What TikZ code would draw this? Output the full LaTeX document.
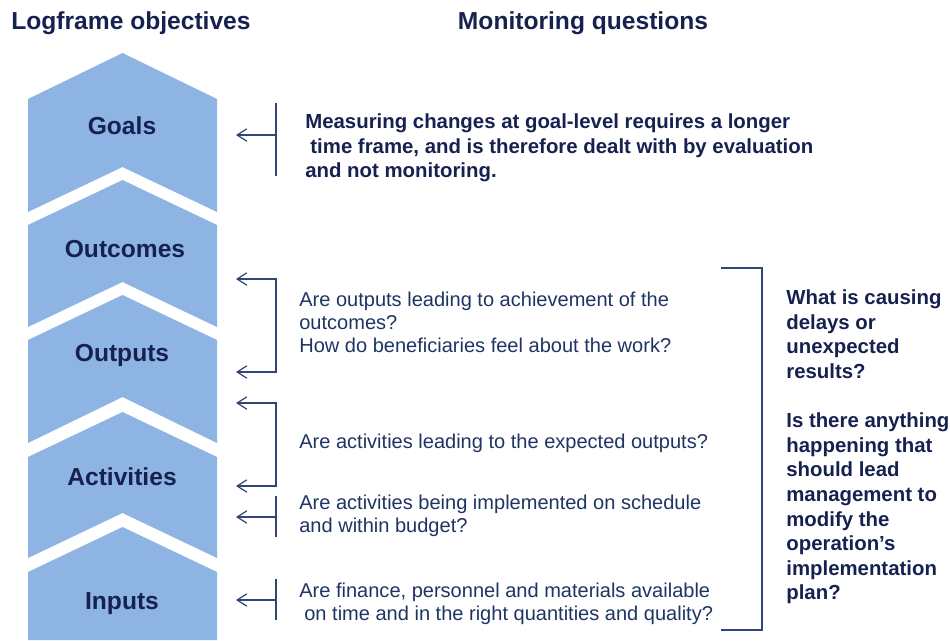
\documentclass[tikz,border=0pt]{standalone}
\usepackage{fontspec}
\setmainfont{Liberation Sans}
\usetikzlibrary{arrows.meta}
\definecolor{chevblue}{RGB}{142,180,227}
\definecolor{navytext}{RGB}{22,33,80}
\definecolor{bodytext}{RGB}{30,52,98}
\definecolor{linecol}{RGB}{50,70,118}
\tikzset{
    chevron/.style={
        fill=chevblue,
        draw=none
    },
    chevlabel/.style={
        anchor=base,
        inner sep=0,
        text=navytext,
        font=\bfseries\fontsize{14}{17}\selectfont
    },
    heading/.style={
        chevlabel
    },
    question/.style={
        anchor=west,
        align=left,
        inner sep=0,
        text=bodytext,
        font=\fontsize{11.4}{13}\selectfont
    },
    boldquestion/.style={
        question,
        text=navytext,
        font=\bfseries\fontsize{11.6}{14}\selectfont
    },
    bracket/.style={
        draw=linecol,
        line width=0.7pt
    },
    pointer/.style={
        bracket,
        -{Straight Barb[length=5.5pt,width=7pt]}
    },
    twopointer/.style={
        bracket,
        {Straight Barb[length=5.5pt,width=7pt]}-{Straight Barb[length=5.5pt,width=7pt]}
    }
}

\begin{document}
\begin{tikzpicture}[x=0.02cm, y=-0.02cm]
    \useasboundingbox (0,0) rectangle (950,640);
    % headings
    \node[heading] (head-left) at (131,29) {Logframe objectives};
    \node[heading] (head-right) at (583,29) {Monitoring questions};

    % chevrons
    \fill[chevron] (28,99) -- (122.5,53) -- (217,99) -- (217,212) -- (122.5,167) -- (28,212) -- cycle;
    \fill[chevron] (28,225) -- (122.5,180) -- (217,225) -- (217,327) -- (122.5,282) -- (28,327) -- cycle;
    \fill[chevron] (28,340) -- (122.5,295) -- (217,340) -- (217,443) -- (122.5,397) -- (28,443) -- cycle;
    \fill[chevron] (28,457) -- (122.5,412) -- (217,457) -- (217,558) -- (122.5,513) -- (28,558) -- cycle;
    \fill[chevron] (28,572) -- (122.5,527) -- (217,572) -- (217,640) -- (28,640) -- cycle;
    \node[chevlabel] (goals) at (122,134) {Goals};
    \node[chevlabel] (outcomes) at (125,257) {Outcomes};
    \node[chevlabel] (outputs) at (122,361) {Outputs};
    \node[chevlabel] (activities) at (122,485) {Activities};
    \node[chevlabel] (inputs) at (122,609) {Inputs};

    % bracket end points
    \coordinate (g-top) at (276,103);
    \coordinate (g-bot) at (276,176);
    \coordinate (g-mid) at (276,135);
    \coordinate (g-tip) at (236,135);
    \coordinate (o-tip1) at (236,279);
    \coordinate (o-c1) at (276,279);
    \coordinate (o-c2) at (276,372);
    \coordinate (o-tip2) at (236,372);
    \coordinate (a-tip1) at (236,403);
    \coordinate (a-c1) at (276,403);
    \coordinate (a-c2) at (276,486);
    \coordinate (a-tip2) at (236,486);
    \coordinate (s-top) at (276,496);
    \coordinate (s-bot) at (276,537);
    \coordinate (s-mid) at (276,517);
    \coordinate (s-tip) at (236,517);
    \coordinate (i-top) at (276,579);
    \coordinate (i-bot) at (276,620);
    \coordinate (i-mid) at (276,600);
    \coordinate (i-tip) at (236,600);
    \coordinate (b-top) at (721,268);
    \coordinate (b-c1) at (762,268);
    \coordinate (b-c2) at (762,630);
    \coordinate (b-bot) at (721,630);

    % brackets and arrows
    \draw[bracket] (g-top) -- (g-bot);
    \draw[pointer] (g-mid) -- (g-tip);
    \draw[twopointer] (o-tip1) -- (o-c1) -- (o-c2) -- (o-tip2);
    \draw[twopointer] (a-tip1) -- (a-c1) -- (a-c2) -- (a-tip2);
    \draw[bracket] (s-top) -- (s-bot);
    \draw[pointer] (s-mid) -- (s-tip);
    \draw[bracket] (i-top) -- (i-bot);
    \draw[pointer] (i-mid) -- (i-tip);
    \draw[bracket] (b-top) -- (b-c1) -- (b-c2) -- (b-bot);

    % questions
    \node[boldquestion] (q-goals) at (305,148) {Measuring changes at goal-level requires a longer\\
        \hspace{0.25em}time frame, and is therefore dealt with by evaluation\\
        and not monitoring.};
    \node[question] (q-outputs) at (299,322) {Are outputs leading to achievement of the\\
        outcomes?\\
        How do beneficiaries feel about the work?};
    \node[question] (q-activities) at (299,443) {Are activities leading to the expected outputs?};
    \node[question] (q-schedule) at (299,516) {Are activities being implemented on schedule\\
        and within budget?};
    \node[question] (q-inputs) at (299,603.5) {Are finance, personnel and materials available\\
        \hspace{0.25em}on time and in the right quantities and quality?};
    \node[boldquestion] (q-causes) at (786,447) {What is causing\\
        delays or\\
        unexpected\\
        results?\\[14pt]
        Is there anything\\
        happening that\\
        should lead\\
        management to\\
        modify the\\
        operation’s\\
        implementation\\
        plan?};
\end{tikzpicture}
\end{document}
